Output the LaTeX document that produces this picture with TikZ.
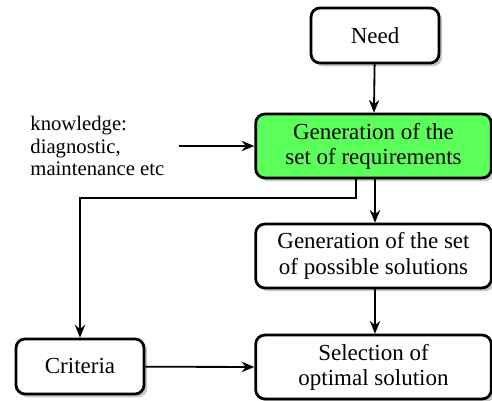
\documentclass[tikz,border=0pt]{standalone}
\usepackage{fontspec}
\setmainfont{Liberation Serif}
\usetikzlibrary{shadows,arrows.meta}
\definecolor{boxgreen}{RGB}{90,255,90}
\definecolor{shadowgray}{RGB}{200,200,200}
\begin{document}
\begin{tikzpicture}[x=0.435pt,y=-0.435pt,
  box/.style={draw, line width=1.2pt, rounded corners=4pt, fill=white, align=center,
    inner sep=0pt, font=\rmfamily\fontsize{10}{11}\selectfont,
    drop shadow={shadow xshift=1.4pt, shadow yshift=-1.4pt, fill=shadowgray, opacity=1}},
  conn/.style={line width=0.8pt, -{Stealth[length=5.5pt,width=4.5pt]}}]
\useasboundingbox (0,0) rectangle (492,401);
\node[box, minimum width=55.7pt, minimum height=24pt] (need) at (375,35.5) {Need};
\node[box, fill=boxgreen, minimum width=102.5pt, minimum height=27.8pt] (req) at (373.5,146) {Generation of the\\set of requirements};
\node[box, minimum width=102.5pt, minimum height=27.8pt] (sol) at (373.5,256) {Generation of the set\\of possible solutions};
\node[box, minimum width=102.5pt, minimum height=27.8pt] (sel) at (373.5,367) {Selection of\\optimal solution};
\node[box, minimum width=55.7pt, minimum height=24pt] (crit) at (80,366.5) {Criteria};
\node[anchor=west, align=left, inner sep=0pt, font=\rmfamily\fontsize{9}{9.8}\selectfont] (know) at (30,146) {knowledge:\\diagnostic,\\maintenance etc};
\coordinate (k1) at (179,146);
\coordinate (b1) at (356,198);
\draw[conn] (need) -- (req);
\draw[conn] (k1) -- (req.west);
\draw[conn] (req.south -| b1) |- (b1) -| (crit.north);
\draw[conn] (req.south -| need) -- (sol.north -| need);
\draw[conn] (sol.south -| need) -- (sel.north -| need);
\draw[conn] (crit) -- (sel.west);
\end{tikzpicture}
\end{document}
